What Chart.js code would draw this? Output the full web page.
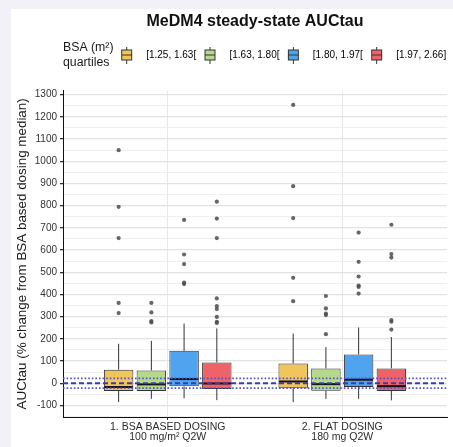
<!DOCTYPE html>
<html>
<head>
<meta charset="utf-8">
<script src="https://cdn.jsdelivr.net/npm/chart.js@4.4.1/dist/chart.umd.min.js"></script>
<style>
  html, body { margin: 0; padding: 0; background: #f2f1f7; }
  body { width: 453px; height: 447px; position: relative; overflow: hidden; }
  #panel { position: absolute; left: 11px; top: 9px; width: 442px; height: 438px; background: #fff; }
</style>
</head>
<body>
<div id="panel"><canvas id="chart" width="442" height="438"></canvas></div>
<script>
// Boxplot summary per BSA quartile: [quartile][dose group]
const doseGroups = [["1. BSA BASED DOSING", "100 mg/m² Q2W"], ["2. FLAT DOSING", "180 mg Q2W"]];
const quartiles = ["[1.25, 1.63[", "[1.63, 1.80[", "[1.80, 1.97[", "[1.97, 2.66]"];
const quartileColors = ["#f2c55c", "#b5d88b", "#50a3ee", "#ee6368"];

const whiskerLow = [[-85, -85], [-70, -70], [-68, -70], [-76, -77]];
const boxLow = [[-35, -23], [-35, -34], [-14, -17], [-26, -35]];
const medians = [[-17, 8], [-5, -4], [19, 16], [-1, -13]];
const boxHigh = [[61, 89], [58, 67], [146, 130], [94, 67]];
const whiskerHigh = [[178, 224], [191, 163], [269, 251], [247, 208]];
const outliers = [
  [[1050, 795, 654, 362, 316], [1254, 888, 744, 475, 370]],
  [[362, 319, 280, 274], [393, 337, 314, 307, 221]],
  [[736, 580, 537, 454, 447], [679, 547, 481, 440, 434, 404]],
  [[818, 742, 654, 382, 348, 334, 299, 277, 272], [714, 582, 566, 285, 277, 242]],
];
// reference lines: median (dashed) and the +/- band (dotted)
const refDashed = [0];
const refDotted = [-22, 22];

const yMin = -152, yMax = 1318, yStep = 50;
const xMin = 0.4, xMax = 2.6;
const groupPct = 0.75, boxPct = 0.9;

Chart.defaults.font.family = '"Liberation Sans", Arial, sans-serif';

// little boxplot icon for the legend keys
function glyph(color) {
  const c = document.createElement("canvas");
  c.width = 22; c.height = 17;
  const g = c.getContext("2d");
  const cx = 7.5;
  g.strokeStyle = "#333"; g.lineWidth = 1;
  g.beginPath(); g.moveTo(cx, 0); g.lineTo(cx, 17); g.stroke();
  g.fillStyle = color;
  g.fillRect(cx - 5, 3.5, 10, 10);
  g.strokeRect(cx - 5, 3.5, 10, 10);
  g.beginPath(); g.moveTo(cx - 5, 8.5); g.lineTo(cx + 5, 8.5); g.stroke();
  return c;
}
const glyphs = quartileColors.map(glyph);

const slot = groupPct / quartiles.length;

const boxSets = quartiles.map((q, i) => ({
  type: "bar",
  label: q,
  data: doseGroups.map((g, j) => ({ x: j + 1, y: [boxLow[i][j], boxHigh[i][j]] })),
  backgroundColor: quartileColors[i],
  borderColor: "#333",
  borderWidth: 1,
  borderSkipped: false,
  categoryPercentage: groupPct,
  barPercentage: boxPct,
  order: 2,
}));

const outlierSet = {
  type: "scatter",
  label: "outliers",
  data: outliers.flatMap((byGroup, i) =>
    byGroup.flatMap((vals, j) => vals.map((v) => ({ x: j + 1 + (i - 1.5) * slot, y: v })))),
  pointRadius: 2.1,
  pointBackgroundColor: "rgba(75,75,75,0.85)",
  pointBorderWidth: 0,
  order: 1,
};

function refLine(v, dash, color, w) {
  return {
    type: "line",
    label: "ref",
    data: [{ x: xMin, y: v }, { x: xMax, y: v }],
    borderColor: color,
    borderWidth: w,
    borderDash: dash,
    pointRadius: 0,
    fill: false,
    order: 0,
  };
}
const refSets = [
  ...refDashed.map((v) => refLine(v, [5, 3], "#3a3ab5", 1.8)),
  ...refDotted.map((v) => refLine(v, [1.6, 2], "#5252c8", 1.6)),
];

// whiskers + median on each box, legend title left of the keys
const boxExtras = {
  id: "boxExtras",
  afterLayout(chart) {
    // end-aligned legend rows sit exactly on the right edge; a hair of slack stops the last key wrapping
    if (chart.legend.lineWidths) chart.legend.lineWidths[0] += 0.5;
  },
  afterDatasetDraw(chart, args) {
    const i = args.index;
    if (i >= quartiles.length) return;
    const y = chart.scales.y;
    const ctx = chart.ctx;
    ctx.save();
    args.meta.data.forEach((bar, j) => {
      const { x, width } = bar.getProps(["x", "width"], true);
      ctx.strokeStyle = "#333";
      ctx.lineWidth = 1;
      ctx.beginPath();
      ctx.moveTo(x, y.getPixelForValue(boxHigh[i][j]));
      ctx.lineTo(x, y.getPixelForValue(whiskerHigh[i][j]));
      ctx.moveTo(x, y.getPixelForValue(boxLow[i][j]));
      ctx.lineTo(x, y.getPixelForValue(whiskerLow[i][j]));
      ctx.stroke();
      const m = y.getPixelForValue(medians[i][j]);
      ctx.strokeStyle = "#111";
      ctx.lineWidth = 2;
      ctx.beginPath();
      ctx.moveTo(x - width / 2 + 0.5, m);
      ctx.lineTo(x + width / 2 - 0.5, m);
      ctx.stroke();
    });
    ctx.restore();
  },
  afterDraw(chart) {
    const hb = chart.legend.legendHitBoxes[0];
    if (!hb) return;
    const cy = hb.top + hb.height / 2;
    const ctx = chart.ctx;
    ctx.save();
    ctx.font = '12.3px "Liberation Sans", Arial, sans-serif';
    ctx.fillStyle = "#1a1a1a";
    ctx.textAlign = "left";
    ctx.textBaseline = "middle";
    ctx.fillText("BSA (m²)", chart.chartArea.left, cy - 7.3);
    ctx.fillText("quartiles", chart.chartArea.left, cy + 7.5);
    ctx.restore();
  },
};

new Chart(document.getElementById("chart"), {
  type: "bar",
  data: { datasets: [...boxSets, outlierSet, ...refSets] },
  plugins: [boxExtras],
  options: {
    responsive: false,
    animation: false,
    devicePixelRatio: 1,
    layout: { padding: 0 },
    plugins: {
      tooltip: { enabled: false },
      title: {
        display: true,
        text: "MeDM4 steady-state AUCtau",
        fullSize: false,
        font: { size: 16, weight: "bold" },
        color: "#111",
        padding: { top: 3.4, bottom: 12.1 },
      },
      legend: {
        position: "top",
        align: "end",
        labels: {
          usePointStyle: true,
          pointStyleWidth: 22,
          padding: 6.3,
          color: "#222",
          font: { size: 10 },
          generateLabels: () =>
            quartiles.map((q, i) => ({
              text: q,
              pointStyle: glyphs[i],
              fillStyle: quartileColors[i],
              strokeStyle: "#333",
              lineWidth: 0,
              hidden: false,
              datasetIndex: i,
            })),
        },
      },
    },
    scales: {
      x: {
        type: "linear",
        min: xMin,
        max: xMax,
        offset: false,
        afterBuildTicks: (s) => { s.ticks = doseGroups.map((g, j) => ({ value: j + 1 })); },
        grid: { offset: false, color: "#e8e8e8", lineWidth: 1, tickColor: "#333", tickLength: 3 },
        border: { color: "#111", width: 1 },
        ticks: {
          callback: (v) => doseGroups[Math.round(v) - 1],
          font: { size: 10.5, lineHeight: 0.95 },
          color: "#2b2b2b",
          padding: 2.5,
          maxRotation: 0,
          autoSkip: false,
        },
        afterFit: (s) => { s.height = 30; },
      },
      y: {
        type: "linear",
        min: yMin,
        max: yMax,
        ticks: {
          stepSize: yStep,
          includeBounds: false,
          autoSkip: false,
          callback: (v) => (v % 100 === 0 ? String(v) : ""),
          font: { size: 10 },
          color: "#333",
          padding: 3,
        },
        grid: {
          color: (c) => (c.tick && c.tick.value % 100 === 0 ? "#e2e2e2" : "#efefef"),
          lineWidth: (c) => (c.tick && c.tick.value % 100 === 0 ? 1.3 : 1),
          tickColor: (c) => (c.tick && c.tick.value % 100 === 0 ? "#333" : "rgba(0,0,0,0)"),
          tickLength: 3,
        },
        border: { color: "#111", width: 1 },
        title: {
          display: true,
          text: "AUCtau (% change from BSA based dosing median)",
          font: { size: 13.4 },
          color: "#1a1a1a",
          padding: { top: 3, bottom: 0 },
        },
        afterFit: (s) => { s.width = 52; },
      },
      xTop: {
        type: "linear",
        position: "top",
        grid: { display: false },
        border: { display: false },
        ticks: { display: false },
        afterFit: (s) => { s.height = 20.7; },
      },
      yR: {
        type: "linear",
        position: "right",
        grid: { display: false },
        border: { display: false },
        ticks: { display: false },
        afterFit: (s) => { s.width = 6; },
      },
    },
  },
});
</script>
</body>
</html>
